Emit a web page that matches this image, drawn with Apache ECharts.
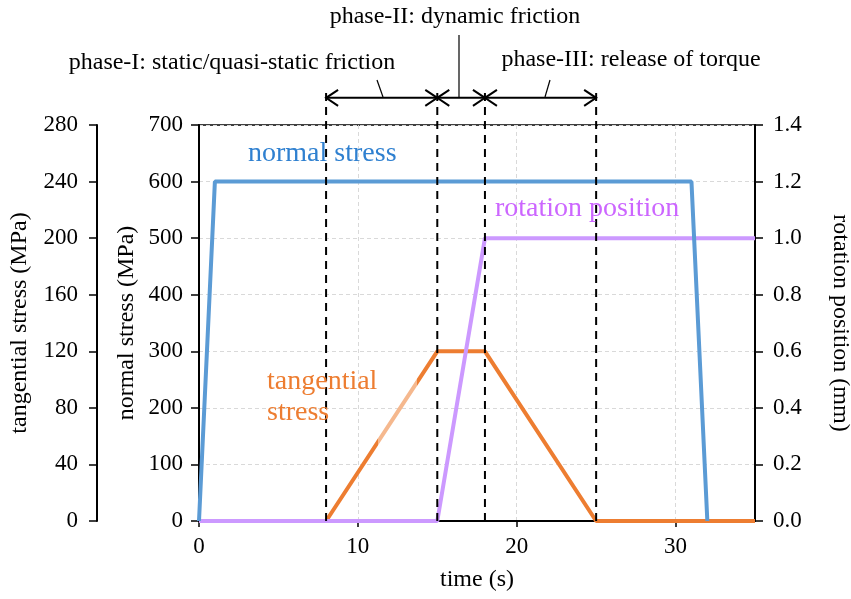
<!DOCTYPE html>
<html>
<head>
<meta charset="utf-8">
<script src="https://cdn.jsdelivr.net/npm/echarts@6/dist/echarts.min.js"></script>
<style>
html,body{margin:0;padding:0;background:#fff;}
#chart{width:851px;height:599px;}
</style>
</head>
<body>
<div id="chart"></div>
<script>
// ---- data ----
const normalStress = [[0, 0], [1, 600], [31, 600], [32, 0]];            // MPa (normal axis)
const tangentialStress = [[0, 0], [8, 0], [15, 120], [18, 120], [25, 0], [35, 0]]; // MPa (tangential axis)
const rotationPosition = [[0, 0], [15, 0], [18, 1.0], [35, 1.0]];         // mm
const phaseBounds = [8, 15, 18, 25];                                       // s
const phaseArrows = [[8, 15], [15, 18], [18, 25]];                         // s
const xTicks = {min: 0, max: 35, interval: 10};
const normalTicks = {min: 0, max: 700, interval: 100};
const tangTicks = {min: 0, max: 280, interval: 40};
const rotTicks = {min: 0, max: 1.4, interval: 0.2};
const DASH_TOP = 765;   // normal-stress units (above plot)
const ARROW_Y = 748;    // normal-stress units (above plot)

const FONT = '"Liberation Serif", "Times New Roman", serif';
const C_BLUE = '#5B9BD5', C_ORANGE = '#ED7D31', C_PURPLE = '#CC99FF';

const chart = echarts.init(document.getElementById('chart'), null, {renderer: 'canvas'});

const tickLabel = {fontFamily: FONT, fontSize: 23, color: '#000'};
const nameStyle = {fontFamily: FONT, fontSize: 24, color: '#000'};
const axisLineStyle = {show: true, lineStyle: {color: '#000', width: 2}};
const gridLine = {show: true, lineStyle: {color: '#d9d9d9', width: 1, type: [4, 3]}};

const option = {
  animation: false,
  backgroundColor: '#fff',
  grid: {left: 199, right: 96, top: 125, bottom: 78, show: true, borderColor: '#000', borderWidth: 1.5,
         backgroundColor: 'transparent', outerBoundsMode: 'none', containLabel: false},
  xAxis: {
    type: 'value', min: xTicks.min, max: xTicks.max, interval: xTicks.interval,
    name: 'time (s)', nameLocation: 'middle', nameGap: 47, nameTextStyle: nameStyle, nameMoveOverlap: false,
    axisLine: axisLineStyle, axisTick: {show: true, length: 6, lineStyle: {color: '#000', width: 1.5}},
    axisLabel: Object.assign({margin: 14, showMaxLabel: false}, tickLabel),
    splitLine: gridLine
  },
  yAxis: [
    {
      type: 'value', position: 'left', min: normalTicks.min, max: normalTicks.max, interval: normalTicks.interval,
      name: 'normal stress (MPa)', nameLocation: 'middle', nameGap: 60, nameRotate: 90, nameTextStyle: nameStyle, nameMoveOverlap: false,
      axisLine: axisLineStyle, axisTick: {show: true, length: 8, lineStyle: {color: '#000', width: 1.5}},
      axisLabel: Object.assign({margin: 16}, tickLabel),
      splitLine: gridLine
    },
    {
      type: 'value', position: 'left', offset: 102, min: tangTicks.min, max: tangTicks.max, interval: tangTicks.interval,
      name: 'tangential stress (MPa)', nameLocation: 'middle', nameGap: 65, nameRotate: 90, nameTextStyle: nameStyle, nameMoveOverlap: false,
      axisLine: axisLineStyle, axisTick: {show: true, length: 8, lineStyle: {color: '#000', width: 1.5}},
      axisLabel: Object.assign({margin: 19}, tickLabel),
      splitLine: {show: false}
    },
    {
      type: 'value', position: 'right', min: rotTicks.min, max: rotTicks.max, interval: rotTicks.interval,
      name: 'rotation position (mm)', nameLocation: 'middle', nameGap: 73, nameRotate: -90, nameTextStyle: nameStyle, nameMoveOverlap: false,
      axisLine: axisLineStyle, axisTick: {show: true, length: 8, lineStyle: {color: '#000', width: 1.5}},
      axisLabel: Object.assign({margin: 18, formatter: v => v.toFixed(1)}, tickLabel),
      splitLine: {show: false}
    }
  ],
  visualMap: [{
    type: 'piecewise', show: false, seriesIndex: 0, dimension: 0,
    pieces: [
      {lt: 11.27, color: C_ORANGE},
      {gte: 11.27, lt: 13.72, color: '#F5B88E'},
      {gte: 13.72, color: C_ORANGE}
    ]
  }],
  series: [
    {
      name: 'tangential stress', type: 'line', yAxisIndex: 1, data: tangentialStress,
      showSymbol: false, symbol: 'none', z: 3,
      lineStyle: {width: 4}
    },
    {
      name: 'rotation position', type: 'line', yAxisIndex: 2, data: rotationPosition,
      showSymbol: false, symbol: 'none', z: 4,
      lineStyle: {color: C_PURPLE, width: 4}
    },
    {
      name: 'normal stress', type: 'line', yAxisIndex: 0, data: normalStress,
      showSymbol: false, symbol: 'none', z: 5,
      lineStyle: {color: C_BLUE, width: 4}
    },
    {
      name: 'phase bounds', type: 'custom', yAxisIndex: 0, z: 6, clip: false,
      data: phaseBounds.map(v => [v]),
      encode: {x: 0},
      renderItem: function (params, api) {
        const x = api.value(0);
        const p0 = api.coord([x, 0]);
        const p1 = api.coord([x, DASH_TOP]);
        return {type: 'line', shape: {x1: p0[0], y1: p0[1], x2: p1[0], y2: p1[1]},
          style: {stroke: '#000', lineWidth: 2, lineDash: [8, 6]}};
      }
    },
    {
      name: 'phase arrows', type: 'custom', yAxisIndex: 0, z: 7, clip: false,
      data: phaseArrows,
      encode: {x: [0, 1]},
      renderItem: function (params, api) {
        const a = api.coord([api.value(0), ARROW_Y]);
        const b = api.coord([api.value(1), ARROW_Y]);
        const L = 12, H = 8;
        const st = {stroke: '#000', lineWidth: 2, fill: null};
        return {type: 'group', children: [
          {type: 'line', shape: {x1: a[0], y1: a[1], x2: b[0], y2: b[1]}, style: st},
          {type: 'polyline', shape: {points: [[a[0] + L, a[1] - H], [a[0], a[1]], [a[0] + L, a[1] + H]]}, style: st},
          {type: 'polyline', shape: {points: [[b[0] - L, b[1] - H], [b[0], b[1]], [b[0] - L, b[1] + H]]}, style: st}
        ]};
      }
    }
  ],
  graphic: [
    {type: 'text', left: 248, top: 140, z: 10, style: {text: 'normal stress', font: '28px ' + FONT, fill: '#2F80D0'}},
    {type: 'text', left: 495, top: 195, z: 10, style: {text: 'rotation position', font: '28px ' + FONT, fill: '#CC66FF'}},
    {type: 'text', left: 267, top: 366, z: 10, style: {text: 'tangential\nstress', font: '28px ' + FONT, fill: C_ORANGE, lineHeight: 31}},
    {type: 'text', x: 455, y: 17, z: 10, style: {text: 'phase-II: dynamic friction', font: '24px ' + FONT, fill: '#000', align: 'center', verticalAlign: 'middle'}},
    {type: 'text', x: 232, y: 63, z: 10, style: {text: 'phase-I: static/quasi-static friction', font: '24px ' + FONT, fill: '#000', align: 'center', verticalAlign: 'middle'}},
    {type: 'text', x: 631, y: 60, z: 10, style: {text: 'phase-III: release of torque', font: '24px ' + FONT, fill: '#000', align: 'center', verticalAlign: 'middle'}},
    {type: 'line', z: 10, shape: {x1: 459, y1: 35, x2: 459, y2: 98}, style: {stroke: '#000', lineWidth: 1.2}},
    {type: 'line', z: 10, shape: {x1: 383, y1: 97, x2: 377, y2: 80}, style: {stroke: '#000', lineWidth: 1.2}},
    {type: 'line', z: 10, shape: {x1: 545, y1: 97, x2: 550, y2: 80}, style: {stroke: '#000', lineWidth: 1.2}}
  ]
};
chart.setOption(option);
</script>
</body>
</html>
